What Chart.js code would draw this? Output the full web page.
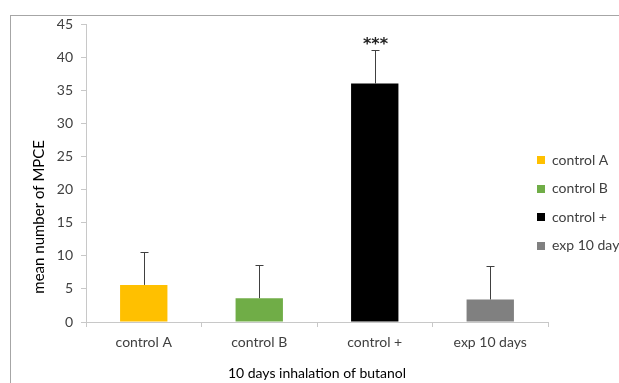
<!DOCTYPE html>
<html>
<head>
<meta charset="utf-8">
<script src="https://cdn.jsdelivr.net/npm/chart.js@4.4.1/dist/chart.umd.min.js"></script>
<style>
  body { margin: 0; background: #fff; overflow: hidden; }
  #wrap { position: relative; width: 619px; height: 383px; }
</style>
</head>
<body>
<div id="wrap"><canvas id="mpceChart"></canvas></div>
<script>
// data
const categories = ["control A", "control B", "control +", "exp 10 days"];
const meanValues = [5.6, 3.6, 36.0, 3.4];
const errValues = [5.0, 5.0, 5.0, 5.0];
const barColors = ["#FFC000", "#70AD47", "#000000", "#808080"];
const significance = ["", "", "***", ""];
const yMin = 0;
const yMax = 45;
const yStep = 5;
const yTitle = "mean number of MPCE";
const xTitle = "10 days inhalation of butanol";

const FONT = "Lato, 'Open Sans', sans-serif";
const TEXT_COLOR = "#404040";
const AXIS_COLOR = "#c8c8c8";

// grey frame round the chart area, cut by the window on right and bottom
const framePlugin = {
  id: "frame",
  beforeDraw(chart) {
    const { ctx } = chart;
    ctx.save();
    ctx.fillStyle = "#fff";
    ctx.fillRect(0, 0, chart.width, chart.height);
    ctx.strokeStyle = "#a6a6a6";
    ctx.lineWidth = 1;
    ctx.strokeRect(10.5, 15.5, 800, 600);
    ctx.restore();
  },
};

// upward error bars and the *** marks
const errorBarPlugin = {
  id: "errorBars",
  afterDatasetsDraw(chart) {
    const { ctx } = chart;
    const yScale = chart.scales.y;
    const meta = chart.getDatasetMeta(0);
    ctx.save();
    ctx.strokeStyle = "#404040";
    ctx.lineWidth = 1;
    meta.data.forEach((bar, i) => {
      const x = Math.round(bar.x) + 0.5;
      const yBase = yScale.getPixelForValue(meanValues[i]);
      const yTop = Math.round(yScale.getPixelForValue(meanValues[i] + errValues[i])) + 0.5;
      ctx.beginPath();
      ctx.moveTo(x, yBase);
      ctx.lineTo(x, yTop);
      ctx.moveTo(x - 4, yTop);
      ctx.lineTo(x + 4, yTop);
      ctx.stroke();
      if (significance[i]) {
        ctx.fillStyle = "#222";
        ctx.font = "bold 16px 'DejaVu Sans', sans-serif";
        ctx.textAlign = "center";
        ctx.textBaseline = "alphabetic";
        ctx.fillText(significance[i], x, yTop - 2);
      }
    });
    ctx.restore();
  },
};

// rotated y title, placed low like the original
const yTitlePlugin = {
  id: "yTitle",
  afterDraw(chart) {
    const { ctx, chartArea } = chart;
    ctx.save();
    ctx.translate(39, chartArea.top + (chartArea.bottom - chartArea.top) * 0.647);
    ctx.rotate(-Math.PI / 2);
    ctx.fillStyle = "#000";
    ctx.font = `15px ${FONT}`;
    ctx.textAlign = "center";
    ctx.textBaseline = "middle";
    ctx.fillText(yTitle, 0, 0);
    ctx.restore();
  },
};

// legend with one entry per category
const legendPlugin = {
  id: "catLegend",
  afterDraw(chart) {
    const { ctx } = chart;
    ctx.save();
    ctx.font = `14px ${FONT}`;
    ctx.textBaseline = "middle";
    ctx.textAlign = "left";
    categories.forEach((cat, i) => {
      const cy = 160 + i * 28.5;
      ctx.fillStyle = barColors[i];
      ctx.fillRect(537, Math.round(cy - 4), 8, 8);
      ctx.fillStyle = TEXT_COLOR;
      ctx.fillText(cat, 552, cy);
    });
    ctx.restore();
  },
};

const ctx = document.getElementById("mpceChart").getContext("2d");
const chart = new Chart(ctx, {
  type: "bar",
  data: {
    labels: categories,
    datasets: [{
      data: meanValues,
      backgroundColor: barColors,
      borderWidth: 0,
      barPercentage: 1,
      categoryPercentage: 0.41,
    }],
  },
  options: {
    responsive: true,
    maintainAspectRatio: false,
    animation: false,
    layout: { padding: { left: 10, right: 71, top: 24, bottom: 0 } },
    plugins: {
      legend: { display: false },
      tooltip: { enabled: false },
    },
    scales: {
      x: {
        grid: {
          offset: true,
          drawOnChartArea: false,
          drawTicks: true,
          tickLength: 5,
          color: AXIS_COLOR,
        },
        border: { color: AXIS_COLOR },
        ticks: { color: TEXT_COLOR, font: { family: FONT, size: 14 }, padding: 7 },
        title: {
          display: true,
          text: xTitle,
          color: "#000",
          font: { family: FONT, size: 14 },
          padding: { top: 0, bottom: 1 },
        },
        afterFit(scale) { scale.height = 61; },
      },
      y: {
        min: yMin,
        max: yMax,
        ticks: { stepSize: yStep, color: TEXT_COLOR, font: { family: FONT, size: 14 }, padding: 8 },
        grid: {
          drawOnChartArea: false,
          drawTicks: true,
          tickLength: 5,
          color: AXIS_COLOR,
        },
        border: { color: AXIS_COLOR },
        afterFit(scale) { scale.width = 76; },
      },
    },
  },
  plugins: [framePlugin, errorBarPlugin, yTitlePlugin, legendPlugin],
});
</script>
</body>
</html>
